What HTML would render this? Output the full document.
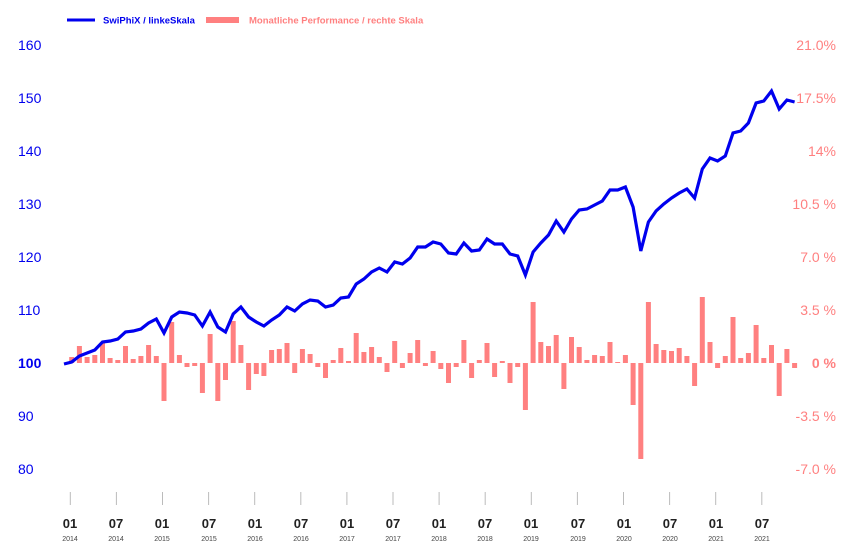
<!DOCTYPE html>
<html><head><meta charset="utf-8"><style>
html,body{margin:0;padding:0;background:#fff;}
svg{display:block;font-family:"Liberation Sans",sans-serif;}
</style></head><body>
<svg width="861" height="558" viewBox="0 0 861 558" xmlns="http://www.w3.org/2000/svg">
<line x1="67" y1="20" x2="95" y2="20" stroke="#0000ee" stroke-width="3"/>
<text x="103" y="23.5" font-size="9.5" font-weight="bold" fill="#0000ee">SwiPhiX / linkeSkala</text>
<rect x="206" y="17" width="33" height="6" fill="#ff8080"/>
<text x="249" y="23.5" font-size="9.5" font-weight="bold" fill="#ff8080">Monatliche Performance / rechte Skala</text>
<g font-size="14" fill="#0000ee">
<text x="18" y="50">160</text><text x="18" y="103">150</text><text x="18" y="156">140</text><text x="18" y="209">130</text><text x="18" y="262">120</text><text x="18" y="315">110</text><text x="18" y="368" font-weight="bold">100</text><text x="18" y="421">90</text><text x="18" y="474">80</text>
</g>
<g font-size="14" fill="#ff8080" text-anchor="end">
<text x="836" y="50">21.0%</text><text x="836" y="103">17.5%</text><text x="836" y="156">14%</text><text x="836" y="209">10.5 %</text><text x="836" y="262">7.0 %</text><text x="836" y="315">3.5 %</text><text x="836" y="368" font-weight="bold">0 %</text><text x="836" y="421">-3.5 %</text><text x="836" y="474">-7.0 %</text>
</g>
<g id="bars" fill="#ff8080"></g>
<polyline id="line" fill="none" stroke="#0000ee" stroke-width="3.2" stroke-linejoin="miter" points=""/>
<g id="ticks" stroke="#bbb" stroke-width="1"></g>
<g font-size="13" font-weight="bold" fill="#222" text-anchor="middle">
<text x="70" y="528">01</text><text x="116" y="528">07</text><text x="162" y="528">01</text><text x="209" y="528">07</text><text x="255" y="528">01</text><text x="301" y="528">07</text><text x="347" y="528">01</text><text x="393" y="528">07</text><text x="439" y="528">01</text><text x="485" y="528">07</text><text x="531" y="528">01</text><text x="578" y="528">07</text><text x="624" y="528">01</text><text x="670" y="528">07</text><text x="716" y="528">01</text><text x="762" y="528">07</text>
</g>
<g font-size="7" fill="#444" text-anchor="middle">
<text x="70" y="541">2014</text><text x="116" y="541">2014</text><text x="162" y="541">2015</text><text x="209" y="541">2015</text><text x="255" y="541">2016</text><text x="301" y="541">2016</text><text x="347" y="541">2017</text><text x="393" y="541">2017</text><text x="439" y="541">2018</text><text x="485" y="541">2018</text><text x="531" y="541">2019</text><text x="578" y="541">2019</text><text x="624" y="541">2020</text><text x="670" y="541">2020</text><text x="716" y="541">2021</text><text x="762" y="541">2021</text>
</g>
</svg>
<script>
var ly=[364,362,356,353,350,342,341,339,332,331,329,323,319,333,317,312,313,315,326,312,327,332,314,307,317,322,326,320,315,307,311,304,300,301,307,305,298,297,284,279,272,268,272,262,264,258,247,247,242,244,253,254,243,251,250,239,244,244,254,256,275,252,243,235,221,232,219,210,209,205,201,190,190,187,207,251,222,211,204,198,193,189,198,169,158,161,156,133,131,123,103,101,91,109,100,102];
var bv=[6,17,6,8,21,5,3,17,4,7,18,7,-38,41,8,-4,-3,-30,29,-38,-17,42,18,-27,-11,-13,13,14,20,-10,14,9,-4,-15,3,15,2,30,11,16,6,-9,22,-5,10,23,-3,12,-6,-20,-4,23,-15,3,20,-14,2,-20,-4,-47,61,21,17,28,-26,26,16,3,8,7,21,1,8,-42,-96,61,19,13,12,15,7,-23,66,21,-5,7,46,5,10,38,5,18,-33,14,-5];
var st=7.69,pts=[];
for(var i=0;i<ly.length;i++)pts.push((64+i*st).toFixed(1)+","+ly[i]);
document.getElementById("line").setAttribute("points",pts.join(" "));
var g=document.getElementById("bars"),ns="http://www.w3.org/2000/svg";
for(var j=0;j<bv.length;j++){var r=document.createElementNS(ns,"rect");var x=64+(j+1)*st-2.5;var v=bv[j];
r.setAttribute("x",x.toFixed(1));r.setAttribute("width","5");r.setAttribute("y",v>0?363-v:363);r.setAttribute("height",Math.abs(v));g.appendChild(r);}
var t=document.getElementById("ticks");
for(var k=0;k<16;k++){var l=document.createElementNS(ns,"line");var xx=70.3+k*46.1;l.setAttribute("x1",xx);l.setAttribute("x2",xx);l.setAttribute("y1",492);l.setAttribute("y2",505);t.appendChild(l);}
</script>
</body></html>
